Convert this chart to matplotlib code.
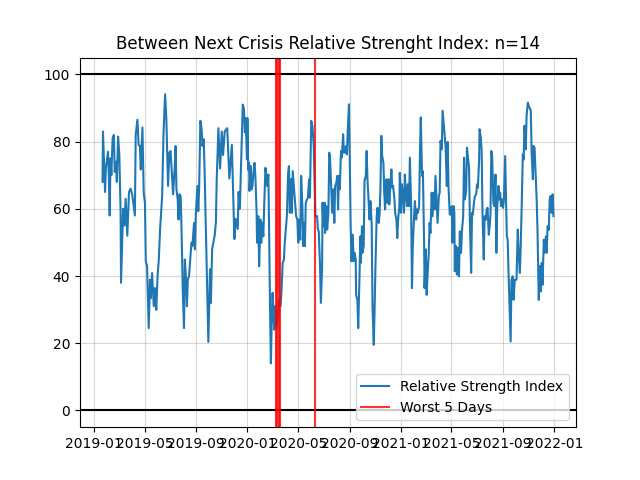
import numpy as np
import pandas as pd
import matplotlib
matplotlib.use("Agg")
import matplotlib.pyplot as plt

# days since 2019-01-01 and RSI values
days = [
    20, 21, 26, 28, 33, 35, 37, 39, 41, 44, 47, 49, 52, 54, 57, 60, 63, 64, 67, 69,
    72, 75, 79, 83, 87, 91, 97, 99, 103, 106,
    109, 111, 115, 118, 121, 123, 126, 130, 133, 135, 138, 142, 145, 148, 151, 154, 157, 159, 162, 165,
    169, 172, 176, 179, 182, 185, 188, 192, 194, 196, 199, 201, 203, 206, 208, 211, 214, 216, 219, 221,
    223, 226, 230, 232, 234, 238, 240, 242, 246, 248, 250, 253, 256, 258, 261, 263, 268, 272,
    276, 278, 281, 287, 290, 292, 296, 300, 304, 307, 311, 317, 322, 328, 334, 337, 342, 344, 347,
    354, 357, 359, 361, 364, 365, 367, 369, 370, 373, 375, 377, 380, 382, 384, 387, 388, 391, 393, 396,
    398, 400, 403, 405, 408, 410, 412, 415, 416, 418, 419, 421, 423, 425, 427, 429, 431, 433, 435, 438,
    440, 442, 444, 446, 449, 452, 454, 457, 459, 462, 464, 466, 469, 471, 473, 476, 478, 481, 484, 486,
    488, 491, 493, 496, 498, 500, 502, 504, 507, 509, 512, 514, 517, 520, 523, 525, 527,
    531, 533, 535, 538, 540, 543, 544, 546, 549, 550, 553, 555, 558, 560, 562, 565, 567, 570, 572, 574,
    577, 579, 581, 583, 585, 588, 590, 593, 595, 597, 600, 602, 604, 607,
    609, 611, 613, 616, 618, 620, 623, 624, 627, 629, 632, 634, 635, 638, 639, 642, 644, 647, 649, 651,
    654, 656, 658, 661, 663, 666, 668, 670, 673, 675, 678, 680, 682, 684, 686, 689, 691, 693, 696, 698,
    701, 703, 705, 708, 710, 712, 715, 717, 720, 722, 724, 727, 728, 731, 733, 736, 738, 740, 743, 745,
    747, 750, 752, 755, 757, 759, 762, 764, 767, 769, 771, 774, 776, 778, 781, 783, 786, 787, 790, 792,
    794, 797, 799, 801, 804, 806, 809, 811, 813, 816, 818, 821, 823, 825, 828, 830, 832, 835, 837, 840,
    842, 844, 847,
    849, 852, 853, 856, 858, 859, 862, 864, 867, 869, 871, 874, 876, 879, 881, 883, 886, 888, 890, 893,
    895, 898, 900, 902, 905, 907, 910, 912, 914, 917, 918, 921, 923, 925, 928, 930, 933, 935, 937, 940,
    942, 944, 946, 948, 951, 953, 956, 958, 960, 963, 965, 967, 969, 971, 974, 976, 979, 981, 983, 985,
    987, 992, 994, 997, 999, 1002, 1004, 1006, 1009, 1011, 1014, 1016, 1018, 1021, 1023, 1025, 1026, 1028, 1030, 1033,
    1035, 1037, 1040, 1042, 1045, 1047, 1049, 1052, 1054, 1056, 1059, 1061, 1064, 1066, 1068, 1071, 1073, 1076, 1078, 1080,
    1083, 1085, 1087, 1090, 1092, 1094,
]
rsi = [
    68, 83, 65, 72, 77, 70, 58, 75, 70, 81, 82, 71, 74, 68, 81.5, 76, 59, 38, 51, 60,
    55, 63, 52, 65, 66, 64, 58, 82, 86.5, 79,
    78.7, 71.7, 84.2, 64.8, 61.8, 44.4, 42.9, 24.5, 38.9, 33.4, 40.9, 31, 36.4, 29.9, 39.9, 44.9, 53.8, 57.8, 63.8, 81.7,
    94.1, 86.7, 66.8, 76.7, 77.2, 70.7, 64.3, 72.7, 78.7, 65.8, 62.8, 56.8, 64.3, 63.8, 54.8, 35.9, 24.5, 44.9, 38.9, 31,
    38.9, 39.9, 46.9, 49.9, 48.9, 55.8, 47.9, 57.8, 66.8, 59.3, 65.8, 86.2, 83.7, 78.7, 80.7, 71.7, 43.9, 20.4,
    42, 32, 48, 52, 56, 69, 84, 72, 83, 76, 83, 84, 69, 79, 51, 57, 54, 65, 60,
    91, 89.6, 82.7, 87, 74.7, 87, 71.6, 73.7, 65.3, 72.7, 65.8, 66.8, 71.7, 73.7, 69.8, 58.8, 49.9, 57.8, 42.9, 56.8,
    49.9, 55.8, 51.8, 60.8, 72.2, 69.8, 66.8, 70.2, 60.8, 38.9, 30, 14, 27, 35, 29, 24, 31, 27, 25, 29,
    33, 31, 31, 35, 43.9, 44.9, 49.9, 54.8, 57.8, 70.7, 72.7, 58.8, 68.8, 58.8, 71.2, 66.3, 62.8, 57.8, 56.8, 49.9,
    56.8, 50.8, 69.8, 60.8, 48.9, 55.8, 48.9, 61.8, 62.8, 63.3, 68.8, 63.3, 86.2, 84.6, 78.7, 68.8, 57.8,
    57.8, 53.8, 53.3, 42.9, 32, 42.9, 61.8, 54.8, 61.8, 52.8, 60.8, 53.8, 58.8, 76.7, 74.7, 64.8, 58.8, 65.8, 55.8, 66.8,
    67.8, 69.8, 59.8, 69.8, 65.8, 77.2, 75.2, 82.2, 76.7, 76.7, 78.7, 76.2, 83.2, 91.1,
    73.7, 54.8, 44.4, 52.3, 44.4, 46.9, 45, 34.4, 32.9, 24.5, 39.9, 51.8, 43.9, 54.8, 46.9, 48.9, 68.3, 69.8, 77.2, 68.8,
    61.8, 56.8, 62.3, 55.8, 31, 19.5, 30, 42.9, 57.8, 60.3, 55.8, 58.8, 66.8, 81.7, 75.7, 73.7, 64.8, 59.8, 68.8, 61.8,
    68.8, 61.3, 65.8, 71.7, 66.3, 66.8, 63.3, 58.8, 56.8, 51.3, 56.8, 60.8, 70.7, 58.8, 67.3, 63.8, 58.8, 70.2, 63.8, 60.8,
    67.3, 60.8, 75.2, 60.8, 36.4, 48.9, 57.8, 62.3, 56.8, 59.8, 58.8, 60.8, 76.2, 87.2, 69.8, 71.2, 48.9, 36.4, 47.9, 34.4,
    39.9, 46.9, 55.8, 52.8, 64.8, 57.8, 64.8, 59.8, 69.8, 61.8, 55.8, 63.8, 64.8, 80.2, 77.7, 89.2, 86.2, 81.7, 78.7, 66.8,
    79.9, 66.8, 58.3,
    58.3, 60.8, 49.9, 60.8, 58.8, 41.4, 48.9, 40.4, 48.4, 39.9, 53.3, 46.9, 53.3, 57.8, 75.2, 62.8, 65.3, 78.2, 75.7, 72.2,
    55.8, 40.9, 58.8, 58.3, 62.3, 63.8, 64.3, 67.3, 66.3, 74.7, 83.7, 81.2, 77.2, 58.8, 44.9, 57.8, 56.8, 59.8, 60.3, 52.3,
    54.8, 58.3, 77.2, 75.7, 61.8, 60.8, 70.2, 46.9, 60.3, 66.8, 62.8, 64.8, 60.8, 62.8, 60.3, 62.8, 75.7, 62.8, 51.8, 50.8,
    40.9, 20.5, 38.9, 39.9, 32.9, 38.9, 38.9, 38.9, 53.8, 46.9, 40.9, 48.9, 58.8, 76.2, 74.7, 84.7, 82.2, 77.7, 87.7, 91.6,
    90.6, 90.1, 89.2, 76.7, 68.8, 78.7, 78.2, 68.8, 62.8, 53.8, 32.9, 42.9, 35.4, 43.9, 37.4, 50.8, 46.9, 51.8, 46.9, 54.8,
    53.8, 62.8, 63.8, 58.8, 64.3, 57.8,
]
worst_days = ["2020-03-09", "2020-03-12", "2020-03-16", "2020-03-18", "2020-06-11"]

dates = (pd.Timestamp("2019-01-01") + pd.to_timedelta(days, unit="D")).to_numpy()

plt.figure(figsize=(6.4, 4.8), dpi=100)
plt.plot(dates, rsi, label="Relative Strength Index")
plt.axhline(100, color="black", lw=1.5)
plt.axhline(0, color="black", lw=1.5)
for i, d in enumerate(worst_days):
    plt.axvline(np.datetime64(d), color="red", alpha=0.8,
                label="Worst 5 Days" if i == 0 else None)
plt.title("Between Next Crisis Relative Strenght Index: n=14")
plt.grid(alpha=0.5)
plt.legend(loc="lower right")
plt.savefig("out.png")
